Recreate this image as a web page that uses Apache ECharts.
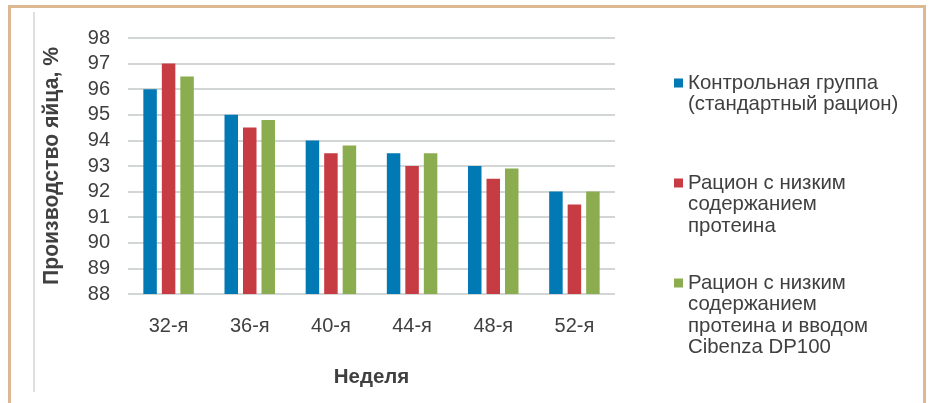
<!DOCTYPE html>
<html>
<head>
<meta charset="utf-8">
<script src="https://cdn.jsdelivr.net/npm/echarts@6/dist/echarts.min.js"></script>
<style>
  html, body { margin: 0; padding: 0; background: #fff; }
  #frame {
    position: absolute; left: 8px; top: 5px; width: 912px; height: 420px;
    border: 3px solid #dcb893; border-bottom: none;
  }
  #chart { position: absolute; left: 0; top: 0; width: 929px; height: 403px; }
</style>
</head>
<body>
<div id="frame"></div>
<div id="chart"></div>
<script>
// Egg production by week for three feeding groups
const weeks = ['32-я', '36-я', '40-я', '44-я', '48-я', '52-я'];
const seriesNames = [
  'Контрольная группа\n(стандартный рацион)',
  'Рацион с низким\nсодержанием\nпротеина',
  'Рацион с низким\nсодержанием\nпротеина и вводом\nCibenza DP100'
];
const controlGroup = [96, 95, 94, 93.5, 93, 92];
const lowProtein = [97, 94.5, 93.5, 93, 92.5, 91.5];
const lowProteinCibenza = [96.5, 94.8, 93.8, 93.5, 92.9, 92];
const yTicks = { min: 88, max: 98, step: 1 };

const colors = ['#0079b5', '#c73b42', '#8bad4f'];
const textColor = '#404040';
const lineH = 21.6;

const chart = echarts.init(document.getElementById('chart'), null, { renderer: 'canvas' });

// One legend per series so each block sits at its own height; leading blank
// lines put the first text line level with the swatch.
function legendFor(name, firstLineY) {
  const lines = name.split('\n').length;
  const pad = '\n'.repeat(lines - 1);
  return {
    data: [name],
    orient: 'vertical',
    left: 674,
    top: firstLineY - (2 * lines - 1) * lineH / 2,
    padding: 0,
    itemWidth: 9,
    itemHeight: 9,
    icon: 'rect',
    selectedMode: false,
    formatter: n => pad + n,
    textStyle: {
      fontFamily: 'Liberation Sans',
      fontSize: 20.4,
      color: textColor,
      lineHeight: lineH
    }
  };
}

chart.setOption({
  animation: false,
  backgroundColor: 'transparent',
  textStyle: { fontFamily: 'Liberation Sans' },
  grid: { left: 128, right: 314, top: 38, bottom: 109, containLabel: false },
  legend: [
    legendFor(seriesNames[0], 83),
    legendFor(seriesNames[1], 183),
    legendFor(seriesNames[2], 283)
  ],
  graphic: [{
    type: 'line',
    shape: { x1: 34, y1: 12, x2: 34, y2: 392 },
    style: { stroke: '#d4d4d4', lineWidth: 1.5 },
    silent: true
  }],
  xAxis: {
    type: 'category',
    data: weeks,
    name: 'Неделя',
    nameLocation: 'middle',
    nameGap: 73,
    nameTextStyle: { fontSize: 20.5, fontWeight: 'bold', color: textColor },
    axisLine: { show: false },
    axisTick: { show: false },
    axisLabel: { fontSize: 20, color: textColor, margin: 22 }
  },
  yAxis: {
    type: 'value',
    min: yTicks.min,
    max: yTicks.max,
    interval: yTicks.step,
    name: 'Производство яйца, %',
    nameLocation: 'middle',
    nameGap: 65,
    nameTextStyle: { fontSize: 21.2, fontWeight: 'bold', color: textColor },
    axisLine: { show: false },
    axisTick: { show: false },
    axisLabel: { fontSize: 20, color: textColor, margin: 18 },
    splitLine: { lineStyle: { color: '#d3d6d6', width: 2 } }
  },
  series: [
    { name: seriesNames[0], type: 'bar', data: controlGroup, barWidth: 13.5, barGap: '37%', itemStyle: { color: colors[0] } },
    { name: seriesNames[1], type: 'bar', data: lowProtein, barWidth: 13.5, barGap: '37%', itemStyle: { color: colors[1] } },
    { name: seriesNames[2], type: 'bar', data: lowProteinCibenza, barWidth: 13.5, barGap: '37%', itemStyle: { color: colors[2] } }
  ]
});
</script>
</body>
</html>
